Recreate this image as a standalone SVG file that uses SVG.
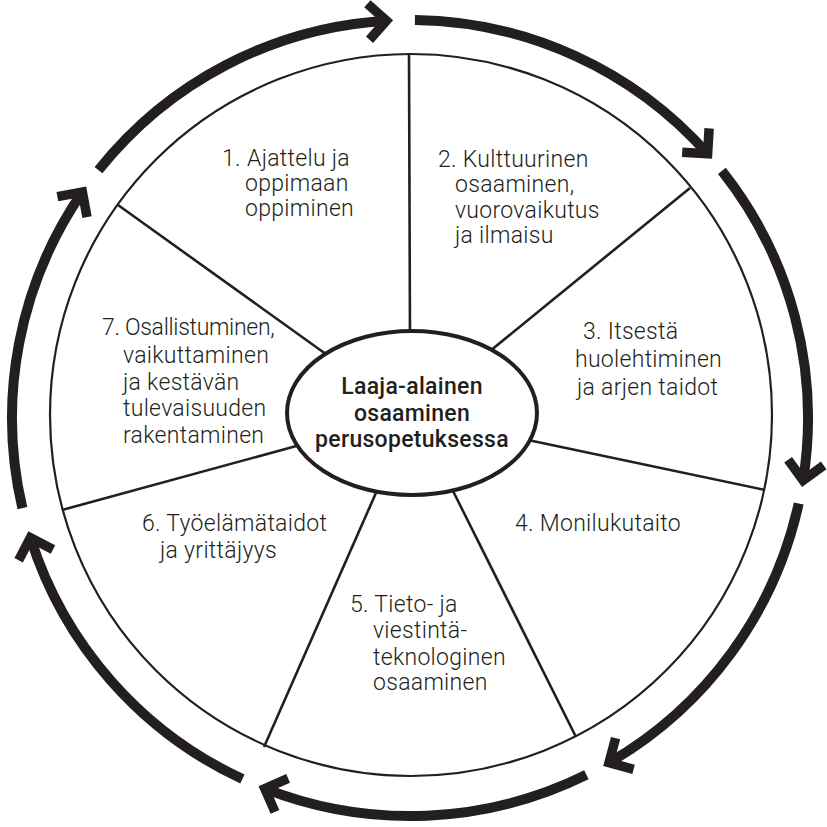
<svg xmlns="http://www.w3.org/2000/svg" width="827" height="827" viewBox="0 0 827 827">
<style>
.lbl{font-family:Roboto,"Liberation Sans",sans-serif;font-weight:300;font-size:23px;letter-spacing:0.3px;fill:#231f20}
.ctr{font-family:Roboto,"Liberation Sans",sans-serif;font-weight:500;font-size:23px;letter-spacing:0.3px;fill:#231f20;text-anchor:middle}
.spoke{stroke:#231f20;stroke-width:2.6;fill:none}
.arc{stroke:#231f20;stroke-width:10;fill:none;marker-end:url(#ah)}
.tight{letter-spacing:-0.3px}
</style>
<defs>
<marker id="ah" markerUnits="userSpaceOnUse" markerWidth="60" markerHeight="60" viewBox="-30 -30 60 60" refX="0" refY="0" orient="auto" overflow="visible">
<path d="M-18,-18 L0,0 L-18,18" fill="none" stroke="#231f20" stroke-width="9.5" stroke-linejoin="miter" stroke-miterlimit="10"/>
</marker>
</defs>
<rect width="827" height="827" fill="#fff"/>
<g id="cycle-arrows">
<path class="arc" d="M414.9,20 A398,398 0 0 1 707.6,153.8"/>
<path class="arc" d="M721.9,170.8 A398,398 0 0 1 803.1,480.3"/>
<path class="arc" d="M798.7,503.5 A398,398 0 0 1 609,762.7"/>
<path class="arc" d="M586.4,774.8 A398,398 0 0 1 264.8,788.6"/>
<path class="arc" d="M242.4,779 A398,398 0 0 1 30.4,537.7"/>
<path class="arc" d="M22.4,508.2 A398,398 0 0 1 82.4,192"/>
<path class="arc" d="M98.5,170.2 A398,398 0 0 1 386.4,20.7"/>
</g>
<g id="wheel">
<circle cx="411" cy="415" r="361" fill="#fff" stroke="#231f20" stroke-width="2.2"/>
</g>
<g id="connectors">
<line class="spoke" x1="409" y1="54" x2="410" y2="340"/>
<line class="spoke" x1="690" y1="188" x2="490" y2="351"/>
<line class="spoke" x1="765" y1="490" x2="528" y2="440"/>
<line class="spoke" x1="576" y1="737" x2="450" y2="485"/>
<line class="spoke" x1="264" y1="747" x2="379" y2="486"/>
<line class="spoke" x1="62" y1="510" x2="300" y2="445"/>
<line class="spoke" x1="118" y1="205" x2="330" y2="357"/>
</g>
<g id="center">
<ellipse cx="412" cy="413" rx="125" ry="82" fill="#fff" stroke="#231f20" stroke-width="4"/>
<text class="ctr"><tspan x="412" y="394">Laaja-alainen</tspan><tspan x="412" y="421">osaaminen</tspan><tspan x="412" y="447">perusopetuksessa</tspan></text>
</g>
<g id="node1">
<text class="lbl"><tspan x="222" y="166">1.</tspan><tspan x="247" y="166">Ajattelu ja</tspan><tspan x="245" y="191">oppimaan</tspan><tspan x="245" y="216">oppiminen</tspan></text>
</g>
<g id="node2">
<text class="lbl"><tspan x="438" y="167">2. Kulttuurinen</tspan><tspan x="455" y="192">osaaminen,</tspan><tspan x="455" y="218">vuorovaikutus</tspan><tspan x="455" y="243">ja ilmaisu</tspan></text>
</g>
<g id="node3">
<text class="lbl"><tspan x="583" y="339">3. Itsestä</tspan><tspan x="575" y="367">huolehtiminen</tspan><tspan x="577" y="395">ja arjen taidot</tspan></text>
</g>
<g id="node4">
<text class="lbl"><tspan x="515" y="531">4. Monilukutaito</tspan></text>
</g>
<g id="node5">
<text class="lbl"><tspan x="350" y="612">5. Tieto- ja</tspan><tspan x="373" y="638">viestintä-</tspan><tspan x="373" y="665">teknologinen</tspan><tspan x="373" y="690">osaaminen</tspan></text>
</g>
<g id="node6">
<text class="lbl"><tspan x="142" y="531">6. Työelämätaidot</tspan><tspan x="160" y="558">ja yrittäjyys</tspan></text>
</g>
<g id="node7">
<text class="lbl"><tspan class="tight" x="102" y="335">7. Osallistuminen,</tspan><tspan x="123" y="363">vaikuttaminen</tspan><tspan x="123" y="390">ja kestävän</tspan><tspan x="123" y="416">tulevaisuuden</tspan><tspan x="123" y="443">rakentaminen</tspan></text>
</g>
</svg>
